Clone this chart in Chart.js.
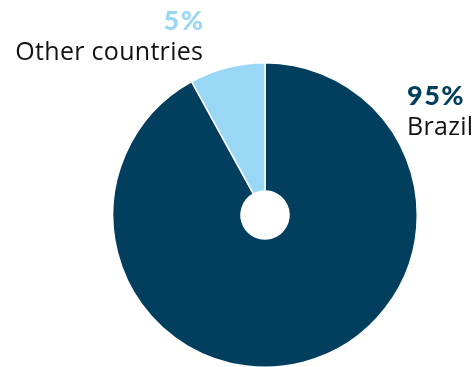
<!DOCTYPE html>
<html>
<head>
<meta charset="utf-8">
<script src="https://cdn.jsdelivr.net/npm/chart.js@4"></script>
<style>
  html, body { margin: 0; padding: 0; background: #fff; overflow: hidden; }
  #wrap { position: absolute; left: 0; top: 0; width: 475px; height: 430px; }
</style>
</head>
<body>
<div id="wrap"><canvas id="myChart"></canvas></div>
<script>
// Data
const countries = ['Brazil', 'Other countries'];
const shareLabels = ['95%', '5%'];
const sliceValues = [92, 8];
const sliceColors = ['#023F5F', '#9AD7F5'];

// label placement (baseline of the percentage, alignment)
const labelPos = [
  { x: 407, y: 105, align: 'left' },
  { x: 203, y: 30, align: 'right' }
];

const labelPlugin = {
  id: 'sliceLabels',
  afterDraw(chart) {
    const c = chart.ctx;
    c.save();
    c.textBaseline = 'alphabetic';
    countries.forEach(function (name, i) {
      const p = labelPos[i];
      c.textAlign = p.align;
      c.fillStyle = sliceColors[i];
      c.font = '900 27px Lato';
      c.letterSpacing = '1.5px';
      const dx = p.align === 'right' ? 1.5 : 0;
      c.fillText(shareLabels[i], p.x + dx, p.y);
      c.fillStyle = '#111';
      c.font = '25px "Open Sans"';
      c.letterSpacing = '0.3px';
      c.fillText(name, p.x + (p.align === 'right' ? 0.3 : 0), p.y + 30);
    });
    c.restore();
  }
};

const ctx = document.getElementById('myChart').getContext('2d');
const myChart = new Chart(ctx, {
  type: 'doughnut',
  data: {
    labels: countries,
    datasets: [{
      data: sliceValues,
      backgroundColor: sliceColors,
      borderColor: '#ffffff',
      borderWidth: 1.5,
      hoverOffset: 0
    }]
  },
  options: {
    responsive: true,
    maintainAspectRatio: false,
    animation: false,
    cutout: 24,
    layout: { padding: { left: 112, right: 57, top: 62, bottom: 62 } },
    plugins: {
      legend: { display: false },
      tooltip: { enabled: false }
    }
  },
  plugins: [labelPlugin]
});
</script>
</body>
</html>
